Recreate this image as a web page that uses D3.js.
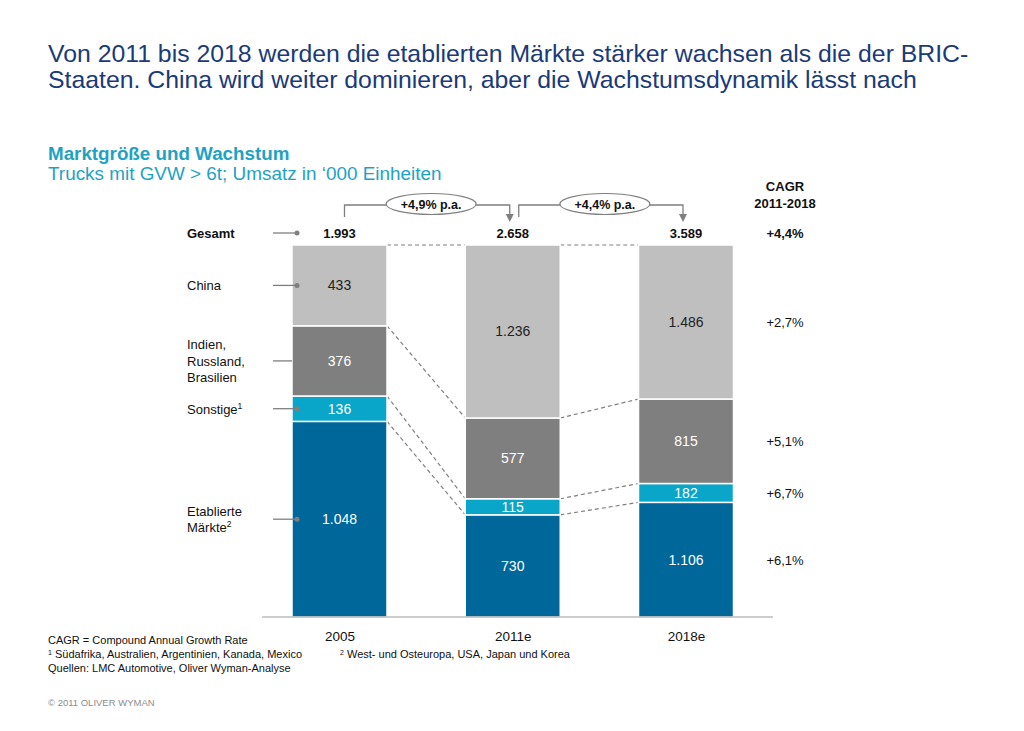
<!DOCTYPE html>
<html><head><meta charset="utf-8">
<script src="https://cdn.jsdelivr.net/npm/d3@7"></script>
<style>body{margin:0;background:#fff}svg{display:block;font-family:"Liberation Sans",Arial,sans-serif}</style>
</head><body>
<svg id="c" width="1024" height="731"></svg>
<script>
const categories = ["2005", "2011e", "2018e"];
const seriesNames = ["Etablierte Märkte", "Sonstige", "Indien, Russland, Brasilien", "China"];
const etabliert = [1048, 730, 1106];
const sonstige = [136, 115, 182];
const bric = [376, 577, 815];
const china = [433, 1236, 1486];
const totals = [1993, 2658, 3589];
const segmentCagr = ["+6,1%", "+6,7%", "+5,1%", "+2,7%"];
const totalCagr = "+4,4%";
const growthLabels = ["+4,9% p.a.", "+4,4% p.a."];
const legendLabels = [["Etablierte", "Märkte²"], ["Sonstige¹"], ["Indien,", "Russland,", "Brasilien"], ["China"]];

const colors = ["#00679b", "#0aa6c9", "#7f7f7f", "#bfbfbf"];
const textColors = ["#fff", "#fff", "#fff", "#222"];

const de = d3.formatLocale({decimal: ",", thousands: ".", grouping: [3], currency: ["", "€"]});
const fmt = de.format(",");

const svg = d3.select("#c");
const series = [etabliert, sonstige, bric, china];

// titles
const title = svg.append("text").attr("fill", "#1b3a78").attr("font-size", 24.8);
title.append("tspan").attr("x", 48).attr("y", 62).text("Von 2011 bis 2018 werden die etablierten Märkte stärker wachsen als die der BRIC-");
title.append("tspan").attr("x", 48).attr("y", 88).text("Staaten. China wird weiter dominieren, aber die Wachstumsdynamik lässt nach");
svg.append("text").attr("x", 48).attr("y", 160).attr("fill", "#1ea2c4").attr("font-size", 18.8).attr("font-weight", "bold").text("Marktgröße und Wachstum");
svg.append("text").attr("x", 48).attr("y", 180).attr("fill", "#1ea2c4").attr("font-size", 18.9).text("Trucks mit GVW > 6t; Umsatz in ‘000 Einheiten");

// scales
const x = d3.scalePoint().domain(categories).range([339.5, 686]);
const barW = 95;
const y = d3.scaleLinear().domain([0, 1]).range([617, 245]);

// stacked shares
const rows = categories.map((c, i) => {
  const r = {cat: c};
  seriesNames.forEach((s, k) => r[s] = series[k][i] / totals[i]);
  return r;
});
const stack = d3.stack().keys(seriesNames)(rows);

// dashed connectors
const gap = svg.append("g").attr("stroke", "#7f7f7f").attr("stroke-width", 1.2).attr("stroke-dasharray", "4,3").attr("fill", "none");
for (let i = 0; i < categories.length - 1; i++) {
  const bounds = [1].concat(stack.slice(0, 3).map(l => l[i][1]));
  const bounds2 = [1].concat(stack.slice(0, 3).map(l => l[i + 1][1]));
  bounds.forEach((b, k) => {
    gap.append("line")
      .attr("x1", x(categories[i]) + barW / 2).attr("y1", y(b))
      .attr("x2", x(categories[i + 1]) - barW / 2).attr("y2", y(bounds2[k]));
  });
}

// bars
stack.forEach((layer, k) => {
  const g = svg.append("g");
  g.selectAll("rect").data(layer).join("rect")
    .attr("x", d => x(d.data.cat) - barW / 2)
    .attr("width", barW)
    .attr("y", d => y(d[1]))
    .attr("height", d => y(d[0]) - y(d[1]))
    .attr("fill", colors[k])
    .attr("stroke", "#fff").attr("stroke-width", 1.5);
  g.selectAll("text").data(layer).join("text")
    .attr("x", d => x(d.data.cat))
    .attr("y", d => (y(d[0]) + y(d[1])) / 2 + 5)
    .attr("text-anchor", "middle").attr("font-size", 14)
    .attr("fill", textColors[k])
    .text((d, i) => fmt(series[k][i]));
});

// baseline axis
svg.append("line").attr("x1", 262).attr("x2", 773).attr("y1", y(0)).attr("y2", y(0)).attr("stroke", "#999").attr("stroke-width", 1);
const xAxis = d3.axisBottom(x).tickSize(0).tickPadding(10);
const ax = svg.append("g").attr("transform", `translate(0,${y(0) + 4})`).call(xAxis);
ax.select(".domain").remove();
ax.selectAll("text").attr("font-size", 13.5).attr("fill", "#111").attr("font-family", "Liberation Sans, Arial, sans-serif");

// totals
const totY = 233;
svg.selectAll(".tot").data(totals).join("text").attr("class", "tot")
  .attr("x", (d, i) => x(categories[i])).attr("y", totY + 5)
  .attr("text-anchor", "middle").attr("font-size", 13).attr("font-weight", "bold").attr("fill", "#111")
  .text(d => fmt(d));

// growth brackets
for (let i = 0; i < categories.length - 1; i++) {
  const x1 = x(categories[i]) + (i === 0 ? 5 : 6);
  const x2 = x(categories[i + 1]) - 3;
  const g = svg.append("g");
  g.append("path").attr("d", `M${x1},217 V205 H${x2} V214`).attr("fill", "none").attr("stroke", "#7f7f7f").attr("stroke-width", 1.3);
  g.append("path").attr("d", `M${x2 - 4},214 L${x2 + 4},214 L${x2},222 Z`).attr("fill", "#7f7f7f");
  const cx = (x1 + x2) / 2 + 4;
  g.append("ellipse").attr("cx", cx).attr("cy", 204).attr("rx", 45).attr("ry", 10.5).attr("fill", "#fff").attr("stroke", "#7f7f7f").attr("stroke-width", 1.2);
  g.append("text").attr("x", cx).attr("y", 208.5).attr("text-anchor", "middle").attr("font-size", 12.5).attr("font-weight", "bold").attr("fill", "#111").text(growthLabels[i]);
}

// legend on left
const lg = svg.append("g");
function leader(yy, dot) {
  lg.append("line").attr("x1", 273).attr("x2", dot ? 297 : 292).attr("y1", yy).attr("y2", yy).attr("stroke", "#7f7f7f").attr("stroke-width", 1.3);
  if (dot) lg.append("circle").attr("cx", 297).attr("cy", yy).attr("r", 2.5).attr("fill", "#7f7f7f");
}
lg.append("text").attr("x", 187).attr("y", totY + 5).attr("font-size", 13).attr("font-weight", "bold").attr("fill", "#111").text("Gesamt");
leader(totY, true);
stack.forEach((layer, k) => {
  const mid = (y(layer[0][0]) + y(layer[0][1])) / 2;
  const lines = legendLabels[k];
  const lh = 16.5;
  const t = lg.append("text").attr("font-size", 13).attr("fill", "#111");
  lines.forEach((l, j) => {
    const ts = t.append("tspan").attr("x", 187).attr("y", mid + 5 + (j - (lines.length - 1) / 2) * lh);
    const m = l.match(/^(.*?)([¹²])$/);
    if (m) {
      ts.text(m[1]);
      t.append("tspan").attr("font-size", 8.5).attr("dy", -5).text(m[2] === "¹" ? "1" : "2");
    } else ts.text(l);
  });
  leader(mid, k !== 2);
});

// CAGR column
const cx = 785;
svg.append("text").attr("x", cx).attr("y", 191).attr("text-anchor", "middle").attr("font-size", 13).attr("font-weight", "bold").attr("fill", "#111").text("CAGR");
svg.append("text").attr("x", cx).attr("y", 208).attr("text-anchor", "middle").attr("font-size", 13).attr("font-weight", "bold").attr("fill", "#111").text("2011-2018");
svg.append("text").attr("x", cx).attr("y", totY + 5).attr("text-anchor", "middle").attr("font-size", 13).attr("font-weight", "bold").attr("fill", "#111").text(totalCagr);
const last = categories.length - 1;
stack.forEach((layer, k) => {
  const mid = (y(layer[last][0]) + y(layer[last][1])) / 2;
  svg.append("text").attr("x", cx).attr("y", mid + 5).attr("text-anchor", "middle").attr("font-size", 13).attr("fill", "#111").text(segmentCagr[k]);
});

// footnotes
const fn = svg.append("g").attr("font-size", 11).attr("fill", "#111");
fn.append("text").attr("x", 48).attr("y", 644).text("CAGR = Compound Annual Growth Rate");
const f1 = fn.append("text").attr("x", 48).attr("y", 658);
f1.append("tspan").attr("font-size", 7).attr("dy", -3).text("1");
f1.append("tspan").attr("dy", 3).text(" Südafrika, Australien, Argentinien, Kanada, Mexico");
fn.append("text").attr("x", 48).attr("y", 672).text("Quellen: LMC Automotive, Oliver Wyman-Analyse");
const f2 = fn.append("text").attr("x", 340).attr("y", 658);
f2.append("tspan").attr("font-size", 7).attr("dy", -3).text("2");
f2.append("tspan").attr("dy", 3).text(" West- und Osteuropa, USA, Japan und Korea");
svg.append("text").attr("x", 48).attr("y", 706).attr("font-size", 9.5).attr("fill", "#8c8c8c").text("© 2011 OLIVER WYMAN");
</script>
</body></html>
